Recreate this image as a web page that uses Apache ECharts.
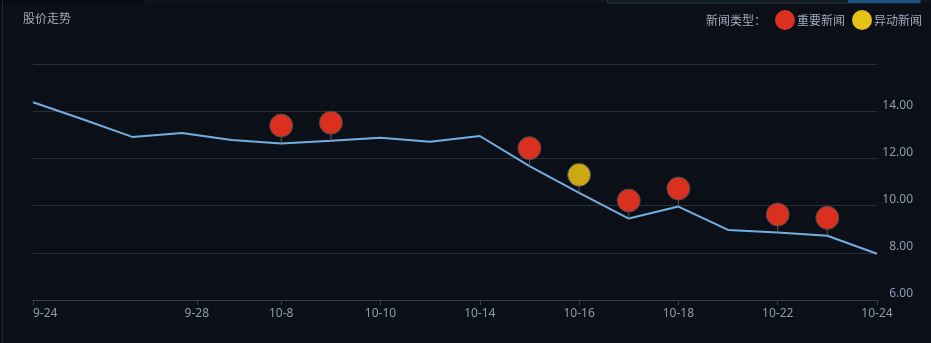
<!DOCTYPE html>
<html>
<head>
<meta charset="utf-8">
<script src="https://cdn.jsdelivr.net/npm/echarts@6/dist/echarts.min.js"></script>
<style>
html,body{margin:0;padding:0;background:#0b1018;}
#c{width:931px;height:343px;}
</style>
</head>
<body>
<div id="c"></div>
<script>
// ---- data ----
var dates = ['9-24','9-25','9-26','9-27','9-30','10-8','10-9','10-10','10-11','10-14','10-15','10-16','10-17','10-18','10-21','10-22','10-23','10-24'];
var prices = [14.38,13.66,12.91,13.08,12.78,12.63,12.75,12.88,12.71,12.95,11.67,10.54,9.45,9.96,8.97,8.86,8.72,7.96];
var importantNewsDates = ['10-8','10-9','10-15','10-17','10-18','10-22','10-23'];
var abnormalNewsDates = ['10-16'];
var xTickLabels = ['9-24','9-28','10-8','10-10','10-14','10-16','10-18','10-22','10-24'];
var xTickPositions = [0,3.3,5,7,9,11,13,15,17];
var yTicks = [6,8,10,12,14,16];

var lineData = prices.map(function(v,i){return [i,v];});
function newsData(list){
  return list.map(function(d){var i=dates.indexOf(d);return [i,prices[i]];});
}
var impData = newsData(importantNewsDates);
var abnData = newsData(abnormalNewsDates);
var stemData = impData.concat(abnData);

var labelColor = '#8c9cb2';
var textColor = '#a0aab8';
var chart = echarts.init(document.getElementById('c'), null, {renderer:'canvas'});
chart.setOption({
  backgroundColor:'#0b1018',
  animation:false,
  title:{text:'股价走势',left:23,top:12,padding:0,textStyle:{color:textColor,fontSize:12,fontWeight:'normal',fontFamily:'Noto Sans CJK SC'}},
  graphic:[
    {type:'rect',shape:{x:0,y:0,width:145,height:3},style:{fill:'#06090d'},silent:true},
    {type:'rect',shape:{x:145,y:0,width:786,height:3},style:{fill:'#0f151c'},silent:true},
    {type:'rect',shape:{x:145,y:0,width:1,height:4},style:{fill:'#1f2731'},silent:true},
    {type:'rect',shape:{x:607.5,y:-1,width:313,height:4},style:{fill:'#111a24',stroke:'#27333f',lineWidth:1},silent:true},
    {type:'rect',shape:{x:848,y:0,width:72,height:3},style:{fill:'#1c5486'},silent:true},
    {type:'rect',shape:{x:2,y:0,width:1,height:343},style:{fill:'#1f2731'},silent:true},
    {type:'text',x:766,y:20,style:{text:'新闻类型：',fill:textColor,fontSize:12,fontFamily:'Noto Sans CJK SC',align:'right',verticalAlign:'middle'},silent:true}
  ],
  legend:{
    right:9,top:10,padding:0,itemWidth:20,itemHeight:20,itemGap:7,icon:'circle',
    textStyle:{color:textColor,fontSize:12,fontFamily:'Noto Sans CJK SC',padding:[0,0,0,-3]},
    data:[
      {name:'重要新闻',itemStyle:{color:'#dc3020',borderWidth:0}},
      {name:'异动新闻',itemStyle:{color:'#e6c11a',borderWidth:0}}
    ]
  },
  grid:{left:33,right:54,top:64,bottom:43},
  xAxis:{
    type:'value',min:0,max:17,
    splitLine:{show:false},
    axisLine:{show:true,lineStyle:{color:'#3a3f47'}},
    axisTick:{show:true,customValues:xTickPositions,length:5,lineStyle:{color:'#3a3f47'}},
    axisLabel:{
      customValues:xTickPositions,color:labelColor,fontSize:12,margin:8,fontFamily:'Noto Sans',
      alignMinLabel:'left',
      formatter:function(v){var k=xTickPositions.indexOf(v);return k>=0?xTickLabels[k]:'';}
    }
  },
  yAxis:{
    type:'value',position:'right',min:yTicks[0],max:yTicks[yTicks.length-1],interval:2,
    axisLine:{show:false},axisTick:{show:false},
    splitLine:{show:true,lineStyle:{color:'#2a2f37',width:1}},
    axisLabel:{
      color:labelColor,fontSize:12,fontFamily:'Noto Sans',align:'right',margin:36,verticalAlign:'bottom',
      showMaxLabel:false,
      formatter:function(v){return v.toFixed(2);}
    }
  },
  series:[
    {type:'line',name:'股价',data:lineData,showSymbol:false,symbol:'none',
     lineStyle:{color:'#74aee0',width:2},z:2},
    {type:'scatter',name:'stem',data:stemData,symbol:'rect',symbolSize:[1,8],symbolOffset:[0,-4],
     itemStyle:{color:'#6a6a6a'},z:3,silent:true},
    {type:'scatter',name:'重要新闻',data:impData,symbol:'circle',symbolSize:23,symbolOffset:[0,-18],
     itemStyle:{color:'#d93020',borderColor:'#4a4a4a',borderWidth:1,opacity:1},z:4},
    {type:'scatter',name:'异动新闻',data:abnData,symbol:'circle',symbolSize:23,symbolOffset:[0,-18],
     itemStyle:{color:'#cca914',borderColor:'#4a4a4a',borderWidth:1,opacity:1},z:4}
  ]
});
</script>
</body>
</html>
